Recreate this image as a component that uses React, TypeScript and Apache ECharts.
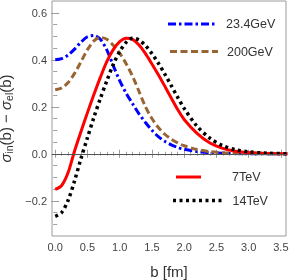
import React, { useEffect, useRef } from 'react';
import * as echarts from 'echarts';

// impact parameter b [fm]
const B = [0, 0.1, 0.2, 0.3, 0.4, 0.5, 0.6, 0.7, 0.8, 0.9, 1.0, 1.1, 1.2, 1.3, 1.4, 1.5, 1.6, 1.7, 1.8, 1.9, 2.0, 2.2, 2.4, 2.6, 2.8, 3.0, 3.3, 3.6];

const S_23GeV = [0.400, 0.405, 0.420, 0.445, 0.475, 0.498, 0.503, 0.487, 0.442, 0.375, 0.311, 0.258, 0.213, 0.170, 0.133, 0.100, 0.073, 0.053, 0.038, 0.027, 0.019, 0.009, 0.004, 0.002, 0.001, 0, 0, 0];
const S_200GeV = [0.272, 0.280, 0.303, 0.342, 0.392, 0.443, 0.480, 0.495, 0.487, 0.462, 0.428, 0.383, 0.330, 0.265, 0.200, 0.150, 0.112, 0.083, 0.062, 0.046, 0.034, 0.018, 0.009, 0.004, 0.002, 0.001, 0, 0];
const S_7TeV = [-0.152, -0.135, -0.080, 0.012, 0.095, 0.175, 0.252, 0.325, 0.392, 0.443, 0.477, 0.492, 0.487, 0.463, 0.426, 0.382, 0.336, 0.287, 0.237, 0.188, 0.146, 0.087, 0.046, 0.023, 0.011, 0.005, 0.001, 0];
const S_14TeV = [-0.266, -0.250, -0.198, -0.115, -0.020, 0.068, 0.155, 0.235, 0.310, 0.380, 0.435, 0.474, 0.492, 0.484, 0.460, 0.426, 0.385, 0.339, 0.290, 0.240, 0.193, 0.117, 0.066, 0.034, 0.017, 0.008, 0.002, 0];

const SERIES_NAMES = ['23.4GeV', '200GeV', '7TeV', '14TeV'];

const X_MAJOR = [0, 0.5, 1.0, 1.5, 2.0, 2.5, 3.0, 3.5];
const X_MINOR = [0.1, 0.2, 0.3, 0.4, 0.6, 0.7, 0.8, 0.9, 1.1, 1.2, 1.3, 1.4, 1.6, 1.7, 1.8, 1.9, 2.1, 2.2, 2.3, 2.4, 2.6, 2.7, 2.8, 2.9, 3.1, 3.2, 3.3, 3.4];
const Y_MAJOR = [-0.2, 0, 0.2, 0.4, 0.6];
const Y_MINOR = [-0.3, -0.25, -0.15, -0.1, -0.05, 0.05, 0.1, 0.15, 0.25, 0.3, 0.35, 0.45, 0.5, 0.55];

const X_MIN = -0.05;
const X_MAX = 3.58;
const Y_MIN = -0.35;
const Y_MAX = 0.65;

const FONT = '"Liberation Sans", Arial, sans-serif';
const FRAME = '#9a9a9a';
const LABEL = '#444';

const fmt = (v: number) => (v < -1e-9 ? '\u2212' : '') + Math.abs(v).toFixed(1);

function xAxisDef(position: 'bottom' | 'top', ticks: number[], len: number, labels: boolean) {
  return {
    type: 'value',
    position,
    min: X_MIN,
    max: X_MAX,
    axisLine: { show: false },
    splitLine: { show: false },
    axisTick: { show: true, inside: true, length: len, customValues: ticks, lineStyle: { color: FRAME, width: 1 } },
    axisLabel: labels
      ? { show: true, customValues: ticks, formatter: fmt, margin: 5, fontSize: 11, color: LABEL, fontFamily: FONT }
      : { show: false },
  };
}

function yAxisDef(position: 'left' | 'right', ticks: number[], len: number, labels: boolean) {
  return {
    type: 'value',
    position,
    min: Y_MIN,
    max: Y_MAX,
    axisLine: { show: false },
    splitLine: { show: false },
    axisTick: { show: true, inside: true, length: len, customValues: ticks, lineStyle: { color: FRAME, width: 1 } },
    axisLabel: labels
      ? { show: true, customValues: ticks, formatter: fmt, margin: 5, fontSize: 11, color: LABEL, fontFamily: FONT }
      : { show: false },
  };
}

export default function App() {
  const ref = useRef<HTMLDivElement>(null);

  useEffect(() => {
    const chart = echarts.init(ref.current!, null, { renderer: 'svg' });
    const toData = (arr: number[]) => B.map((b, i) => [b, arr[i]]);

    const xAxes: any[] = [
      {
        ...xAxisDef('bottom', X_MAJOR, 4, true),
        name: 'b [fm]',
        nameLocation: 'middle',
        nameGap: 28,
        nameTextStyle: { fontSize: 15, color: '#333', fontFamily: FONT },
      },
      xAxisDef('bottom', X_MINOR, 2, false),
      xAxisDef('top', X_MAJOR, 4, false),
      xAxisDef('top', X_MINOR, 2, false),
    ];
    const yAxes: any[] = [
      {
        ...yAxisDef('left', Y_MAJOR, 4, true),
        name: '{s|σ}{sub|in}{n|(b) − }{s|σ}{sub|el}{n|(b)}',
        nameLocation: 'middle',
        nameRotate: 90,
        nameGap: 25.5,
        nameTextStyle: {
          rich: {
            s: { fontSize: 15, fontStyle: 'italic', fontFamily: FONT, color: '#333', lineHeight: 17 },
            n: { fontSize: 15, fontFamily: FONT, color: '#333', lineHeight: 17 },
            sub: { fontSize: 10.5, fontFamily: FONT, color: '#333', lineHeight: 17, verticalAlign: 'bottom' },
          },
        },
      },
      yAxisDef('left', Y_MINOR, 2, false),
      yAxisDef('right', Y_MAJOR, 4, false),
      yAxisDef('right', Y_MINOR, 2, false),
    ];

    const lineCommon = { type: 'line', xAxisIndex: 0, yAxisIndex: 0, showSymbol: false, smooth: 0.3, silent: true };

    chart.setOption({
      animation: false,
      grid: { left: 52, right: 5, top: 1, bottom: 44, show: true, borderColor: FRAME, borderWidth: 1, backgroundColor: 'transparent', outerBoundsMode: 'none' },
      xAxis: xAxes,
      yAxis: yAxes,
      series: [
        {
          type: 'line',
          xAxisIndex: 0,
          yAxisIndex: 0,
          data: [],
          silent: true,
          markLine: {
            silent: true,
            symbol: 'none',
            label: { show: false },
            lineStyle: { color: '#555', width: 1, type: 'solid' },
            data: [{ yAxis: 0 }],
          },
        },
        { ...lineCommon, name: SERIES_NAMES[0], data: toData(S_23GeV), lineStyle: { color: '#0000ff', width: 3, type: [8, 3, 2.5, 3] } },
        { ...lineCommon, name: SERIES_NAMES[1], data: toData(S_200GeV), lineStyle: { color: '#996633', width: 3, type: [7, 3.5] } },
        { ...lineCommon, name: SERIES_NAMES[2], data: toData(S_7TeV), lineStyle: { color: '#ff0000', width: 3, type: 'solid' } },
        { ...lineCommon, name: SERIES_NAMES[3], data: toData(S_14TeV), lineStyle: { color: '#000000', width: 3.5, type: [3, 3.5] } },
      ],
      graphic: [
        { type: 'line', shape: { x1: 168, y1: 24, x2: 215, y2: 24 }, style: { stroke: '#0000ff', lineWidth: 3, lineDash: [8, 3, 2.5, 3] } },
        { type: 'text', x: 226, y: 24, style: { text: SERIES_NAMES[0], fill: '#333', font: `12.5px ${FONT}`, verticalAlign: 'middle', align: 'left' } },
        { type: 'line', shape: { x1: 170, y1: 51.5, x2: 218, y2: 51.5 }, style: { stroke: '#996633', lineWidth: 3, lineDash: [7, 3.5] } },
        { type: 'text', x: 227, y: 51.5, style: { text: SERIES_NAMES[1], fill: '#333', font: `12.5px ${FONT}`, verticalAlign: 'middle', align: 'left' } },
        { type: 'line', shape: { x1: 176, y1: 177, x2: 201, y2: 177 }, style: { stroke: '#ff0000', lineWidth: 3 } },
        { type: 'text', x: 232, y: 177, style: { text: SERIES_NAMES[2], fill: '#333', font: `12.5px ${FONT}`, verticalAlign: 'middle', align: 'left' } },
        { type: 'line', shape: { x1: 173, y1: 200.5, x2: 222, y2: 200.5 }, style: { stroke: '#000000', lineWidth: 3.5, lineDash: [3, 3.5] } },
        { type: 'text', x: 232.5, y: 200.5, style: { text: SERIES_NAMES[3], fill: '#333', font: `12.5px ${FONT}`, verticalAlign: 'middle', align: 'left' } },
      ],
    });

    return () => chart.dispose();
  }, []);

  return <div ref={ref} style={{ position: 'fixed', left: 0, top: 0, width: 291, height: 280 }} />;
}
